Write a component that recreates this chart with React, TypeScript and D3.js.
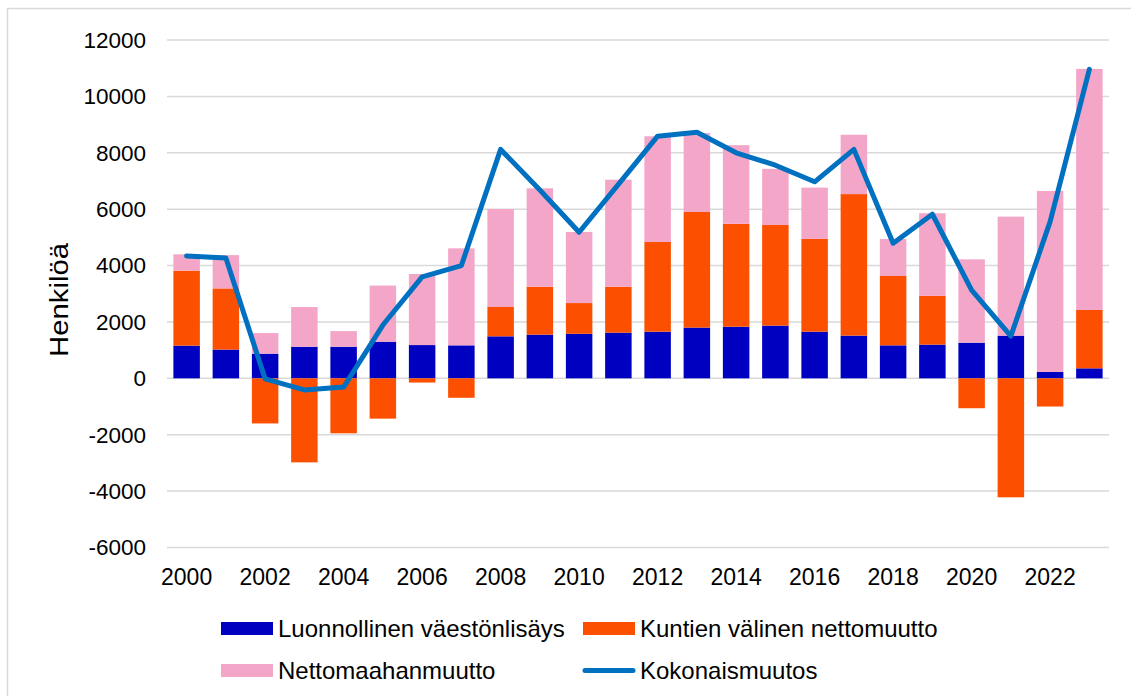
import React from "react";
import * as d3 from "d3";

const years = [2000,2001,2002,2003,2004,2005,2006,2007,2008,2009,2010,2011,2012,2013,2014,2015,2016,2017,2018,2019,2020,2021,2022,2023];
const luonnollinen = [1160,1020,875,1120,1120,1300,1180,1170,1490,1550,1580,1620,1655,1800,1830,1870,1655,1515,1170,1195,1265,1515,225,355];
const kuntien = [2660,2170,-1600,-2980,-1950,-1430,-150,-690,1040,1700,1090,1630,3180,4100,3650,3570,3290,5020,2460,1730,-1060,-4220,-1000,2070];
const maahanmuutto = [580,1180,730,1410,555,1990,2520,3440,3475,3490,2520,3795,3750,2800,2790,1990,1820,2105,1310,2930,2955,4220,6420,8550];
const kokonais = [4340,4270,-20,-410,-310,1890,3600,4000,8120,6680,5180,6880,8590,8730,8000,7560,6970,8120,4790,5820,3130,1500,5560,10960];
const yTicks = [-6000,-4000,-2000,0,2000,4000,6000,8000,10000,12000];
const xTickYears = [2000,2002,2004,2006,2008,2010,2012,2014,2016,2018,2020,2022];

const seriesNames = ["Luonnollinen väestönlisäys", "Kuntien välinen nettomuutto", "Nettomaahanmuutto"];
const lineName = "Kokonaismuutos";
const colors = ["#0000C0", "#FC5000", "#F4A6C8"];
const lineColor = "#0070C0";

export default function App() {
  const W = 1131, H = 696;
  const left = 167, right = 1109, top = 40, bottom = 547.5;
  const x = d3.scaleBand<number>().domain(years).range([left, right]).paddingInner(0.325).paddingOuter(0.1625);
  const y = d3.scaleLinear().domain([-6000, 12000]).range([bottom, top]);
  const table = years.map((yr, i) => ({ year: yr, a: luonnollinen[i], b: kuntien[i], c: maahanmuutto[i] }));
  const stack = d3.stack<any>().keys(["a", "b", "c"]).offset(d3.stackOffsetDiverging);
  const layers = stack(table);
  const cx = (yr: number) => (x(yr) as number) + x.bandwidth() / 2;
  const line = d3.line<number>().x((_, i) => cx(years[i])).y((v) => y(v));
  const font = "'Liberation Sans', Arial, sans-serif";

  return (
    <svg width={W} height={H} style={{ position: "absolute", left: 0, top: 0 }} fontFamily={font}>
      <rect x={0} y={0} width={W} height={H} fill="#fff" />
      <rect x={7.5} y={8.5} width={1300} height={900} fill="none" stroke="#d9d9d9" strokeWidth={1.5} />
      {yTicks.map((t) => (
        <g key={t}>
          <line x1={left} x2={right} y1={y(t)} y2={y(t)} stroke="#d9d9d9" strokeWidth={1.5} />
          <text x={146} y={y(t)} dy="0.35em" textAnchor="end" fontSize={22.5} fill="#000">{t}</text>
        </g>
      ))}
      {layers.map((layer, li) => (
        <g key={li} fill={colors[li]}>
          {layer.map((d, i) => (
            <rect key={i} x={x(years[i])} width={x.bandwidth()} y={y(Math.max(d[0], d[1]))} height={Math.abs(y(d[0]) - y(d[1]))} />
          ))}
        </g>
      ))}
      <path d={line(kokonais) || ""} fill="none" stroke={lineColor} strokeWidth={5} strokeLinejoin="round" strokeLinecap="round" />
      {xTickYears.map((yr) => (
        <text key={yr} x={cx(yr)} y={585} textAnchor="middle" fontSize={23} fill="#000">{yr}</text>
      ))}
      <text transform={`translate(68,300) rotate(-90)`} textAnchor="middle" fontSize={25} textLength={114} lengthAdjust="spacingAndGlyphs" fill="#000">Henkilöä</text>
      <g fontSize={24} fill="#000">
        <rect x={221} y={622} width={52} height={13} fill={colors[0]} />
        <text x={278} y={628.5} dy="0.35em">{seriesNames[0]}</text>
        <rect x={583} y={622} width={52} height={13} fill={colors[1]} />
        <text x={640} y={628.5} dy="0.35em">{seriesNames[1]}</text>
        <rect x={221} y={664} width={52} height={13} fill={colors[2]} />
        <text x={278} y={670.5} dy="0.35em">{seriesNames[2]}</text>
        <line x1={585} x2={633} y1={670.5} y2={670.5} stroke={lineColor} strokeWidth={5} strokeLinecap="round" />
        <text x={640} y={670.5} dy="0.35em">{lineName}</text>
      </g>
    </svg>
  );
}
